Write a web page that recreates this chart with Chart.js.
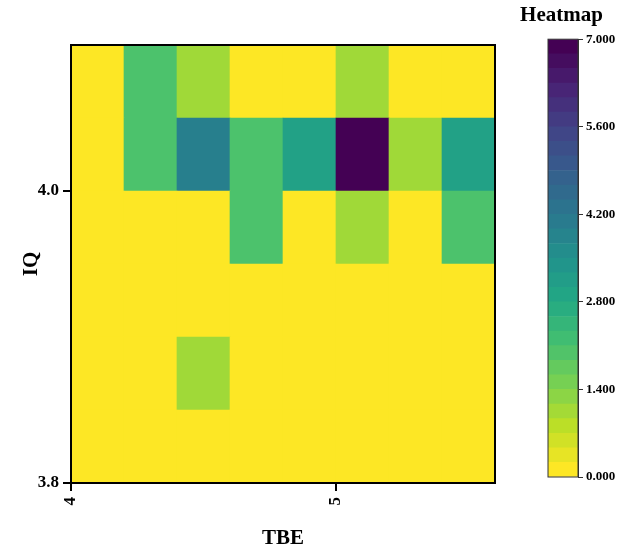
<!DOCTYPE html>
<html><head><meta charset="utf-8">
<script src="https://cdn.jsdelivr.net/npm/chart.js@4/dist/chart.umd.min.js"></script>
<style>
html,body{margin:0;padding:0;background:#fff;}
#wrap{position:relative;width:620px;height:552px;overflow:hidden;}
canvas{display:block;}
</style></head><body>
<div id="wrap">
<div style="position:absolute;left:0;top:0;width:500px;height:552px"><canvas id="main" width="500" height="552"></canvas></div>
<div style="position:absolute;left:500px;top:0;width:120px;height:552px"><canvas id="cbar" width="120" height="552"></canvas></div>
</div>
<script>
// ---- data ----
const tbeBinCenters = [4.1, 4.3, 4.5, 4.7, 4.9, 5.1, 5.3, 5.5];
const iqBinStarts = [3.80, 3.85, 3.90, 3.95, 4.00, 4.05];
const iqBinHeight = 0.05;
const countsIq380 = [0, 0, 0, 0, 0, 0, 0, 0];
const countsIq385 = [0, 0, 1, 0, 0, 0, 0, 0];
const countsIq390 = [0, 0, 0, 0, 0, 0, 0, 0];
const countsIq395 = [0, 0, 0, 2, 0, 1, 0, 2];
const countsIq400 = [0, 2, 4, 2, 3, 7, 1, 3];
const countsIq405 = [0, 2, 1, 0, 0, 1, 0, 0];
const countRows = [countsIq380, countsIq385, countsIq390, countsIq395, countsIq400, countsIq405];
const xTickValues = [4, 5];
const yTickValues = [3.8, 4.0];
const colorbarTicks = [0, 1.4, 2.8, 4.2, 5.6, 7];
const colorMin = 0, colorMax = 7;
const colorbarBandCount = 30;

// ---- viridis ----
const viridisStops = ['#440154','#482475','#414487','#355f8d','#2a788e','#21918c','#22a884','#44bf70','#7ad151','#bddf26','#fde725'];
function hexToRgb(h){return [parseInt(h.slice(1,3),16),parseInt(h.slice(3,5),16),parseInt(h.slice(5,7),16)];}
function viridis(t){
  t = Math.max(0, Math.min(1, t));
  const p = t * (viridisStops.length - 1);
  const i = Math.min(Math.floor(p), viridisStops.length - 2);
  const f = p - i;
  const a = hexToRgb(viridisStops[i]), b = hexToRgb(viridisStops[i+1]);
  const c = a.map((v,k)=>Math.round(v + (b[k]-v)*f));
  return `rgb(${c[0]},${c[1]},${c[2]})`;
}
// reversed colormap: 0 -> yellow, max -> purple
function colorFor(v){ return viridis(1 - (v - colorMin) / (colorMax - colorMin)); }

const SERIF = '"Liberation Serif", "Times New Roman", serif';

const framePlugin = {
  id: 'frame',
  afterDraw(chart, args, opts) {
    const {left, top, right, bottom} = chart.chartArea;
    const ctx = chart.ctx;
    ctx.save();
    ctx.strokeStyle = opts.color || '#000';
    ctx.lineWidth = opts.width || 1;
    ctx.strokeRect(left, top, right - left, bottom - top);
    ctx.restore();
  }
};

// ---- main heatmap ----
const heatDatasets = countRows.map((row, r) => ({
  data: tbeBinCenters.map((x, i) => ({x: x, y: [iqBinStarts[r], iqBinStarts[r] + iqBinHeight]})),
  backgroundColor: row.map(colorFor),
  borderWidth: 0,
  borderSkipped: false,
  grouped: false,
  barPercentage: 1,
  categoryPercentage: 1
}));

new Chart(document.getElementById('main'), {
  type: 'bar',
  data: {datasets: heatDatasets},
  options: {
    responsive: false,
    animation: false,
    layout: {padding: {top: 45, right: 5, left: 0, bottom: 0}},
    plugins: {legend: {display: false}, tooltip: {enabled: false}, frame: {color: '#000', width: 2}},
    scales: {
      x: {
        type: 'linear', min: 4, max: 5.6, offset: false,
        afterBuildTicks: s => { s.ticks = xTickValues.map(v => ({value: v})); },
        afterFit: s => { s.height = 69; },
        ticks: {autoSkip: false, maxRotation: 90, minRotation: 90, padding: 6, color: '#000',
                font: {family: SERIF, weight: 'bold', size: 17}, callback: v => String(v)},
        grid: {drawOnChartArea: false, drawTicks: true, tickLength: 8, color: '#000', lineWidth: 2, offset: false},
        border: {color: '#000', width: 2},
        title: {display: true, text: 'TBE', color: '#000', font: {family: SERIF, weight: 'bold', size: 21}, padding: {top: 0, bottom: 1}}
      },
      y: {
        type: 'linear', min: 3.8, max: 4.1,
        afterBuildTicks: s => { s.ticks = yTickValues.map(v => ({value: v})); },
        afterFit: s => { s.width = 71; },
        ticks: {autoSkip: false, padding: 4, color: '#000',
                font: {family: SERIF, weight: 'bold', size: 17}, callback: v => v.toFixed(1)},
        grid: {drawOnChartArea: false, drawTicks: true, tickLength: 8, color: '#000', lineWidth: 2},
        border: {color: '#000', width: 2},
        title: {display: true, text: 'IQ', color: '#000', font: {family: SERIF, weight: 'bold', size: 21}, padding: {top: 19, bottom: 0}}
      }
    }
  },
  plugins: [framePlugin]
});

// ---- colorbar ----
const cbDatasets = [];
for (let i = 0; i < colorbarBandCount; i++) {
  const lo = colorMin + (colorMax - colorMin) * i / colorbarBandCount;
  const hi = colorMin + (colorMax - colorMin) * (i + 1) / colorbarBandCount;
  cbDatasets.push({
    data: [[lo, hi]],
    xAxisID: 'x', yAxisID: 'y',
    backgroundColor: viridis(1 - i / (colorbarBandCount - 1)),
    borderWidth: 0, borderSkipped: false, grouped: false,
    barPercentage: 1, categoryPercentage: 1
  });
}

new Chart(document.getElementById('cbar'), {
  type: 'bar',
  data: {labels: [''], datasets: cbDatasets},
  options: {
    responsive: false,
    animation: false,
    layout: {padding: {top: 0, right: 0, left: 3, bottom: 75}},
    plugins: {
      legend: {display: false}, tooltip: {enabled: false},
      title: {display: true, text: 'Heatmap', color: '#000', font: {family: SERIF, weight: 'bold', size: 21}, padding: {top: 3, bottom: 11}},
      frame: {color: '#333', width: 1}
    },
    scales: {
      x: {display: false},
      y: {
        type: 'linear', position: 'right', min: colorMin, max: colorMax,
        afterBuildTicks: s => { s.ticks = colorbarTicks.map(v => ({value: v})); },
        afterFit: s => { s.width = 42; },
        ticks: {autoSkip: false, padding: 3, color: '#000',
                font: {family: SERIF, weight: 'bold', size: 13}, callback: v => v.toFixed(3)},
        grid: {drawOnChartArea: false, drawTicks: true, tickLength: 5, color: '#333', lineWidth: 1},
        border: {color: '#333', width: 1}
      },
      pad: {
        type: 'linear', axis: 'y', position: 'left', min: 0, max: 1, display: true,
        afterFit: s => { s.width = 45; },
        ticks: {display: false}, grid: {display: false}, border: {display: false}
      }
    }
  },
  plugins: [framePlugin]
});
</script>
</body></html>
